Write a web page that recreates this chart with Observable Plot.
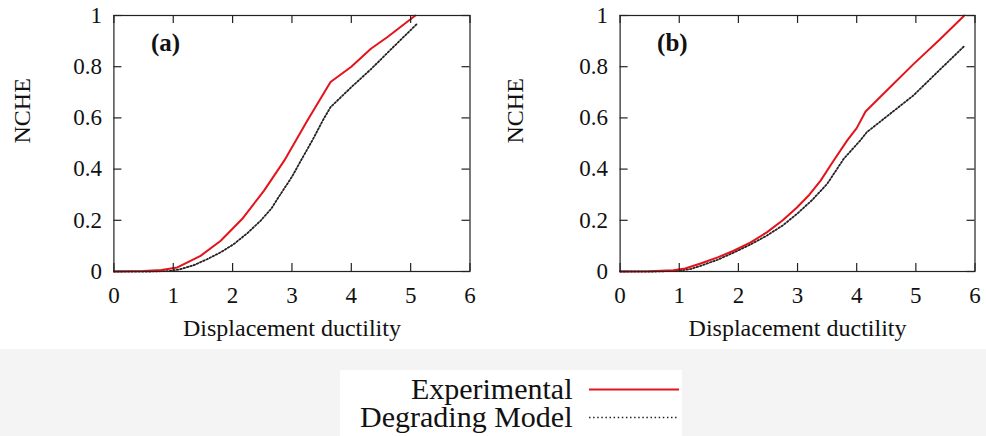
<!DOCTYPE html>
<html><head><meta charset="utf-8">
<script src="https://cdn.jsdelivr.net/npm/d3@7"></script>
<script src="https://cdn.jsdelivr.net/npm/@observablehq/plot@0.6"></script>
<style>
body{margin:0;background:#fff;}
#wrap{position:relative;width:986px;height:436px;overflow:hidden;font-family:"Liberation Serif",serif;}
#band{position:absolute;left:0;top:349px;width:986px;height:87px;background:#f4f4f4;}
#panels{display:flex;position:absolute;left:0;top:0;}
#legend{position:absolute;left:340px;top:370px;background:#fff;}
</style></head><body>
<div id="wrap"><div id="band"></div><div id="panels"></div><div id="legend"></div></div>
<script>
const xTicks = [0, 1, 2, 3, 4, 5, 6];
const yTicks = [0, 0.2, 0.4, 0.6, 0.8, 1];
const yTickLabels = ["0", "0.2", "0.4", "0.6", "0.8", "1"];
const seriesNames = ["Experimental", "Degrading Model"];
const panelLabels = ["(a)", "(b)"];
const xLabel = "Displacement ductility";
const yLabel = "NCHE";

// Panel (a)
const aExpX = [0, 0.5, 0.8, 1.07, 1.46, 1.8, 2.16, 2.53, 2.87, 3.26, 3.65, 4.0, 4.33, 4.61, 5.08];
const aExpY = [0, 0.002, 0.006, 0.016, 0.061, 0.12, 0.205, 0.316, 0.433, 0.59, 0.74, 0.80, 0.87, 0.916, 1.0];
const aDegX = [0, 0.6, 0.95, 1.12, 1.35, 1.57, 1.8, 2.02, 2.25, 2.47, 2.65, 2.81, 3.0, 3.15, 3.35, 3.52, 3.65, 4.0, 4.33, 4.7, 5.11];
const aDegY = [0, 0, 0.002, 0.009, 0.025, 0.048, 0.075, 0.107, 0.15, 0.198, 0.245, 0.303, 0.37, 0.433, 0.515, 0.59, 0.642, 0.72, 0.79, 0.875, 0.968];

// Panel (b)
const bExpX = [0, 0.5, 0.9, 1.1, 1.36, 1.65, 1.92, 2.2, 2.48, 2.75, 2.99, 3.2, 3.39, 3.6, 3.84, 4.0, 4.15, 4.5, 4.96, 5.4, 5.82];
const bExpY = [0, 0.001, 0.005, 0.012, 0.031, 0.055, 0.081, 0.113, 0.153, 0.2, 0.25, 0.3, 0.355, 0.43, 0.512, 0.56, 0.625, 0.705, 0.81, 0.905, 1.0];
const bDegX = [0, 0.6, 1.0, 1.2, 1.36, 1.65, 1.92, 2.2, 2.48, 2.75, 2.99, 3.25, 3.5, 3.78, 4.06, 4.17, 4.5, 4.96, 5.4, 5.83];
const bDegY = [0, 0, 0.003, 0.01, 0.022, 0.046, 0.074, 0.105, 0.14, 0.18, 0.225, 0.28, 0.342, 0.44, 0.512, 0.544, 0.604, 0.688, 0.787, 0.883];

const RED = "#e4131b";
const DOT = "#222";
const FONT = '"Liberation Serif", "Times New Roman", serif';

function panel(expX, expY, degX, degY, tag, ml, mr) {
  const W = 493, H = 345, mt = 15, mb = 74, tk = 8;
  const iw = W - ml - mr, ih = H - mt - mb;
  const exp = expX.map((x, i) => ({x, y: expY[i]}));
  const deg = degX.map((x, i) => ({x, y: degY[i]}));
  const ax = {stroke: "#222", strokeWidth: 1.2};
  return Plot.plot({
    width: W, height: H, marginLeft: ml, marginRight: mr, marginTop: mt, marginBottom: mb,
    style: {fontFamily: FONT, fontSize: "23px", color: "#111", background: "transparent", overflow: "visible"},
    x: {domain: [0, 6], axis: null},
    y: {domain: [0, 1], axis: null},
    marks: [
      Plot.line(deg, {x: "x", y: "y", stroke: DOT, strokeWidth: 1.8, strokeDasharray: "1.5,2"}),
      Plot.line(exp, {x: "x", y: "y", stroke: RED, strokeWidth: 2}),
      Plot.frame(ax),
      Plot.tickX(xTicks, {x: d => d, insetTop: ih - tk, ...ax}),
      Plot.tickX(xTicks, {x: d => d, insetBottom: ih - tk, ...ax}),
      Plot.tickY(yTicks, {y: d => d, insetRight: iw - tk, ...ax}),
      Plot.tickY(yTicks, {y: d => d, insetLeft: iw - tk, ...ax}),
      Plot.axisX(xTicks, {tickSize: 0, tickPadding: 15, label: null, fontSize: 23, fontFamily: FONT}),
      Plot.axisY(yTicks, {tickSize: 0, tickPadding: 12, label: null, fontSize: 23, fontFamily: FONT,
        tickFormat: d => yTickLabels[yTicks.indexOf(d)]}),
      Plot.text([xLabel], {text: d => d, frameAnchor: "bottom", dy: 57, fontSize: 24, fontFamily: FONT, lineAnchor: "middle"}),
      Plot.text([yLabel], {text: d => d, frameAnchor: "left", dx: -(ml - 22), rotate: -90, fontSize: 24, fontFamily: FONT, lineAnchor: "middle"}),
      Plot.text([tag], {text: d => d, frameAnchor: "top-left", dx: 37, dy: 27, fontSize: 25, fontFamily: FONT, fontWeight: "bold", textAnchor: "start", lineAnchor: "middle"})
    ]
  });
}

const panels = document.getElementById("panels");
panels.appendChild(panel(aExpX, aExpY, aDegX, aDegY, panelLabels[0], 113.4, 23.5));
panels.appendChild(panel(bExpX, bExpY, bDegX, bDegY, panelLabels[1], 126.6, 11.5));

const LW = 342;
const leg = Plot.plot({
  width: LW, height: 66, margin: 0,
  style: {fontFamily: FONT, fontSize: "30px", color: "#111", background: "#fff"},
  y: {type: "point", domain: seriesNames, range: [18.3, 46.7], padding: 0, axis: null},
  marks: [
    Plot.text(seriesNames, {y: d => d, text: d => d, frameAnchor: "left", dx: 572 - 340, textAnchor: "end", fontSize: 30, fontFamily: FONT}),
    Plot.ruleY([seriesNames[0]], {y: d => d, stroke: RED, strokeWidth: 2, insetLeft: 589 - 340, insetRight: LW - (679 - 340)}),
    Plot.ruleY([seriesNames[1]], {y: d => d, stroke: DOT, strokeWidth: 1.5, strokeDasharray: "1.5,2.6", insetLeft: 589 - 340, insetRight: LW - (679 - 340)})
  ]
});
document.getElementById("legend").appendChild(leg);
</script>
</body></html>
